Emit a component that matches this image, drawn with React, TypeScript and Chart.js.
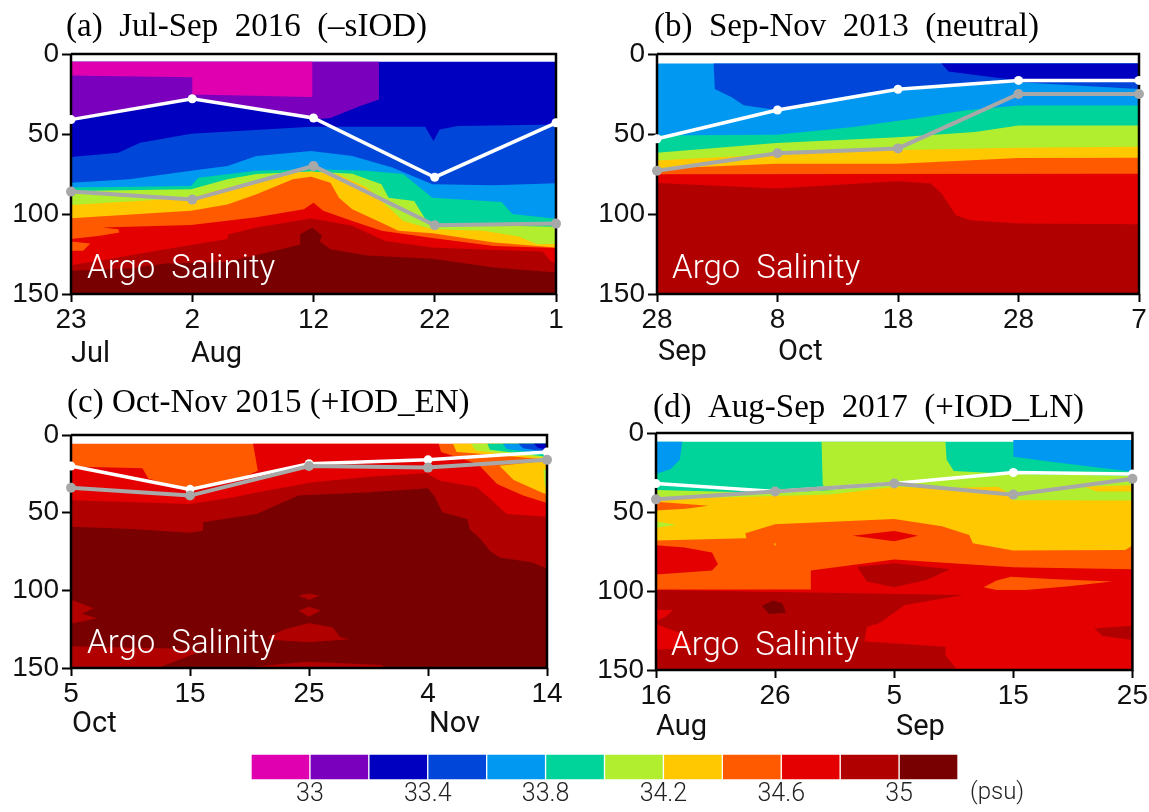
import React, { useEffect, useRef } from "react";
import { Chart, registerables } from "chart.js";
Chart.register(...registerables);

type Pt = [number, number];

const PALETTE = ["#E000B0", "#7A00BE", "#0000C0", "#0046D8", "#0098F0", "#00D49A", "#B2EE30", "#FFC800", "#FF5A00", "#E40000", "#B00000", "#780000"];
const BAR_EDGES = [32.8, 33, 33.2, 33.4, 33.6, 33.8, 34, 34.2, 34.4, 34.6, 34.8, 35, 35.2];
const BAR_TICKS = [33, 33.4, 33.8, 34.2, 34.6, 35];
const DEPTH_TICKS = [0, 50, 100, 150];

// Panel (a)
const A_NAVY: Pt[] = [[0, 4.8], [40, 4.8]];
const A_PURPLE: Pt[] = [[0, 4.8], [25.4, 4.8], [25.4, 28.5], [23.8, 32.6], [21.4, 40], [20, 41], [10, 28], [0, 41]];
const A_MAGENTA: Pt[] = [[0, 4.8], [19.9, 4.8], [19.9, 26.8], [10, 25.3], [10, 14.5], [0, 13.5]];
const A_BLUE: Pt[] = [[0, 64.4], [3.9, 61.7], [5.7, 55.5], [9.9, 49.9], [19.8, 45.5], [29.2, 45.5], [29.9, 54.4], [30.4, 47.2], [31.9, 45], [40, 44]];
const A_LIGHT: Pt[] = [[0, 80.4], [4.8, 78.3], [9.9, 73], [12.9, 70], [15.3, 63.8], [19.8, 60.7], [23.2, 63.8], [26.5, 71], [29.8, 81.4], [34.9, 82], [40, 80.8]];
const A_TEAL: Pt[] = [[0, 83.5], [9.9, 82.5], [10.5, 77.3], [12.9, 75.2], [15.3, 73], [19.8, 72], [24.4, 73], [27.4, 75], [29.8, 89.8], [35.5, 92.5], [36.4, 100], [40, 103]];
const A_LIME: Pt[] = [[0, 85.6], [9.9, 84.6], [12.9, 78.3], [15.3, 75], [19.8, 73.5], [23.2, 74.8], [25.6, 81.4], [26.2, 89.8], [28.3, 91.8], [29.5, 106.4], [40, 108]];
const A_YELLOW: Pt[] = [[0, 94.3], [9.9, 89.8], [12.9, 83.5], [15.3, 79.4], [18.3, 74.2], [19.8, 73.5], [22, 75.2], [24.4, 83.5], [26.2, 96], [27.4, 104.3], [29.8, 109.5], [34, 110.5], [36.9, 114], [38.4, 118.8], [40, 118.8]];
const A_ORANGE: Pt[] = [[0, 102.6], [9.9, 98], [12.9, 94], [15.3, 87.7], [18.3, 78.3], [19.8, 76.7], [21.4, 80.4], [22.1, 89.8], [23.2, 97], [25.3, 104.3], [27, 110.5], [29.8, 112], [34.9, 117.8], [40, 121]];
const A_RED: Pt[] = [[0, 115.7], [2.4, 113.6], [4, 111.6], [3.9, 109.5], [2.6, 108.5], [9.9, 106.8], [15.3, 102], [19.2, 97], [20, 92.9], [20.8, 98], [23.2, 104.3], [25.6, 110.5], [29.8, 115], [34.9, 120], [40, 121.3]];
const A_POCKET: Pt[] = [[0, 117.2], [1.6, 118.4], [1, 123], [0, 123]];
const A_DARK: Pt[] = [[0, 132], [3.3, 128], [7.8, 122], [12.9, 115.7], [13, 112.6], [15.3, 108.5], [19.8, 102.8], [23.2, 107.4], [25.9, 116.8], [29.8, 121], [34.9, 122.5], [38.9, 123.5], [39.5, 129], [40, 131]];
const A_MAROON: Pt[] = [[0, 135.5], [4.8, 134], [7.8, 131], [12.9, 130], [16.8, 123], [18.9, 119], [18.9, 112.6], [19.9, 108.5], [20.7, 113.6], [20.5, 117], [21.4, 122], [24.4, 126], [29.8, 128], [34.9, 133.4], [40, 136.5]];
const A_WHITE = [41, 28, 40, 77, 43];
const A_GRAY = [86, 91, 70, 107, 106];

// Panel (b)
const B_LIGHT: Pt[] = [[0, 6], [40, 6]];
const B_BLUE: Pt[] = [[4.7, 6], [40, 6], [40, 21.8], [30, 17.6], [20, 22.4], [17.5, 24], [14.5, 28], [9.9, 35], [7.2, 32], [6.2, 27], [4.8, 21.8]];
const B_NAVY: Pt[] = [[23.6, 6], [40, 6], [40, 16.6], [30, 16.6], [24.2, 11]];
const B_TEAL: Pt[] = [[0, 51], [9.9, 50.5], [16.3, 45.7], [22.1, 39.5], [25.5, 35.3], [30, 32.2], [40, 32.2]];
const B_LIME: Pt[] = [[0, 61.7], [9.9, 55.7], [20, 52], [26.4, 48.8], [30, 44.7], [40, 44.7]];
const B_YELLOW: Pt[] = [[0, 66.5], [9.9, 62.7], [20, 60], [30, 58.6], [40, 58]];
const B_ORANGE: Pt[] = [[0, 71.7], [9.9, 68.6], [20, 68.6], [30, 65], [40, 64.8]];
const B_RED: Pt[] = [[0, 75.2], [40, 74.8]];
const B_DARK: Pt[] = [[0, 80.6], [9.9, 84], [20, 79.6], [22.7, 81], [23.6, 87], [24.8, 100.8], [26, 103.9], [30, 106], [40, 106.4]];
const B_WHITE = [53, 35, 22, 16.5, 16.5];
const B_GRAY = [73, 62, 59, 25, 25];

// Panel (c)
const C_ORANGE: Pt[] = [[0, 5.6], [40, 5.6]];
const C_RED: Pt[] = [[0, 20.3], [6, 21.4], [6.5, 28], [10, 36], [14, 29], [15.7, 23], [15.3, 5.6], [30.9, 5.6], [31.1, 11], [34.2, 18.7], [35.8, 31.5], [38, 39], [39.8, 43.3], [40, 44]];
const C_TOP_YELLOW: Pt[] = [[32.1, 5.6], [40, 5.6], [40, 16], [36, 13], [32.4, 11]];
const C_TOP_LIME: Pt[] = [[33.6, 5.6], [40, 5.6], [40, 15], [34, 10]];
const C_TOP_TEAL: Pt[] = [[35, 5.6], [40, 5.6], [40, 14], [35.2, 9.5]];
const C_TOP_LIGHT: Pt[] = [[36.3, 5.6], [40, 5.6], [40, 12.5], [36.6, 9]];
const C_TOP_BLUE: Pt[] = [[37.6, 5.6], [40, 5.6], [40, 11], [38, 8.5]];
const C_TOP_NAVY: Pt[] = [[38.9, 5.6], [40, 5.6], [40, 9.5], [39.2, 8]];
const C_LOW_YELLOW: Pt[] = [[36, 19.8], [37.2, 29], [39.7, 37.5], [40, 38], [40, 16.5]];
const C_LOW_LIME: Pt[] = [[39.7, 22], [40, 22], [40, 37], [39.8, 32]];
const C_DARK: Pt[] = [[0, 42], [10, 44.4], [13.7, 40], [15.6, 37], [20.2, 30.5], [24.8, 27], [29.9, 24.7], [31, 29.4], [34.1, 33.7], [35.5, 43], [36.6, 50.9], [40, 52.6]];
const C_MAROON: Pt[] = [[0, 59], [5.1, 60.5], [10, 63], [11.1, 61.6], [11.1, 56.2], [15.6, 50.9], [19.1, 39], [24.8, 37], [30, 34.3], [30.6, 40], [31.2, 49.8], [33.3, 54], [33.5, 60.5], [34.4, 67], [35.2, 74.5], [36, 78.8], [38.7, 82], [40, 86]];
const C_ISLE_LEFT: Pt[] = [[0, 106], [1.9, 111.5], [0.9, 115], [2.2, 118], [0, 121.5]];
const C_ISLE_BASE: Pt[] = [[0, 136], [8.5, 137.5], [11, 139], [7.3, 150], [0, 150]];
const C_ISLE_FOOT: Pt[] = [[14, 150], [19.9, 146], [26.2, 148], [26.2, 150]];
const C_ISLE_A: Pt[] = [[19.1, 103.5], [20, 102], [20.9, 103.5], [20, 106]];
const C_ISLE_B: Pt[] = [[19.5, 112], [20, 110.5], [21, 113], [20, 117], [19.1, 113]];
const C_ISLE_C: Pt[] = [[16.5, 130], [18, 125], [20, 121], [22, 124], [22.6, 130], [23.4, 131.5], [20, 133.5], [17, 132]];
const C_WHITE = [20, 35, 18.5, 16, 11];
const C_GRAY = [34, 39, 20, 21, 16];

// Panel (d)
const D_TEAL: Pt[] = [[0, 5.6], [40, 5.6]];
const D_LIGHT_L: Pt[] = [[0, 5.6], [2.2, 5.6], [2, 17], [1.2, 23], [0, 26]];
const D_LIGHT_R: Pt[] = [[30, 4.5], [40, 4.5], [40, 24.5], [33, 18], [30, 15]];
const D_LIME: Pt[] = [[0, 36], [10, 38], [15, 36], [14, 33], [13.9, 5.6], [24.3, 5.6], [24.4, 17], [25, 24], [30, 26], [40, 27]];
const D_YELLOW: Pt[] = [[0, 42], [14.7, 39], [20, 34], [24, 35], [28.7, 34], [29.4, 37], [30, 42.5], [40, 42.7]];
const D_YELLOW_SLIVER: Pt[] = [[36, 34], [40, 33], [40, 37], [37, 37]];
const D_ORANGE_SLIVER: Pt[] = [[0, 43.5], [2.5, 45], [4.4, 46], [2.5, 48], [0, 49]];
const D_LIME_SLIVER: Pt[] = [[0, 56], [1.7, 58], [0, 60]];
const D_ORANGE: Pt[] = [[0, 68], [7.6, 66.6], [7.5, 63.5], [10, 57.7], [20, 54.5], [24, 59], [26.3, 64.5], [26.6, 69.8], [30, 74.4], [39.4, 74], [40, 71.2]];
const D_DOT: Pt[] = [[9.9, 70], [10.1, 70], [10, 71.5]];
const D_RED: Pt[] = [[0, 99], [13, 99], [13, 87], [20, 80], [30, 85], [40, 86.3]];
const D_POCKET: Pt[] = [[0, 71], [2.4, 72.5], [4.7, 75.7], [5.2, 83], [4.7, 87], [0, 89.5]];
const D_LENS: Pt[] = [[16.5, 65], [20, 62], [22, 65], [20, 68.5]];
const D_ORANGE_ISLE: Pt[] = [[27.5, 97.7], [28.6, 93.4], [29.8, 91], [33.2, 92.4], [38.3, 94], [34.5, 97.2], [31, 99.4], [28.6, 99.4]];
const D_DARK_ISLE: Pt[] = [[16.9, 84.6], [20, 82.5], [24.7, 86.3], [22.7, 93], [20, 97.7], [17.7, 94]];
const D_DARK: Pt[] = [[0, 99.4], [25.8, 102.5], [20.9, 108.9], [18.7, 120.5], [17.7, 122.6], [17.5, 132], [24.3, 135.3], [24.3, 140.6], [25.2, 149], [25.2, 150], [0, 150]];
const D_RED_A: Pt[] = [[0, 112], [1.4, 112], [0.9, 116], [0, 119]];
const D_RED_B: Pt[] = [[0, 121], [1.8, 126], [2.6, 131], [3, 136], [0, 137]];
const D_MAROON_ISLE: Pt[] = [[8.9, 109.5], [9.8, 106], [10.6, 107.8], [10.9, 113.7], [9.5, 114.6]];
const D_DARK_RIGHT: Pt[] = [[36.8, 123.7], [40, 122], [40, 131], [37.5, 128.5]];
const D_WHITE = [32, 37, 32, 25, 26];
const D_GRAY = [42, 37, 32, 39, 29];

const CROSS_DAYS = [0, 10, 20, 30, 40];
const A_DAYS = ["23", "2", "12", "22", "1"];
const B_DAYS = ["28", "8", "18", "28", "7"];
const C_DAYS = ["5", "15", "25", "4", "14"];
const D_DAYS = ["16", "26", "5", "15", "25"];

type Layer = { c: number; pts: Pt[]; band?: boolean };
const band = (c: number, pts: Pt[]): Layer => ({ c, pts, band: true });
const patch = (c: number, pts: Pt[]): Layer => ({ c, pts });

const TITLE = '33px "Liberation Serif"';
const ARGO = '300 33px "Roboto"';
const MONTH = '29px "Roboto"';

const PANELS = [
  {
    box: [0, 0, 592, 375], plot: [71, 54, 556, 294], days: A_DAYS, white: A_WHITE, gray: A_GRAY,
    title: "(a)  Jul-Sep  2016  (–sIOD)", titleAt: [66, 36], argoAt: [87, 278],
    months: [["Jul", 71, 362], ["Aug", 191, 362]],
    layers: [band(2, A_NAVY), patch(1, A_PURPLE), patch(0, A_MAGENTA), band(3, A_BLUE), band(4, A_LIGHT), band(5, A_TEAL), band(6, A_LIME), band(7, A_YELLOW), band(8, A_ORANGE), band(9, A_RED), patch(8, A_POCKET), band(10, A_DARK), band(11, A_MAROON)],
  },
  {
    box: [592, 0, 557, 375], plot: [657, 54, 1139, 294], days: B_DAYS, white: B_WHITE, gray: B_GRAY,
    title: "(b)  Sep-Nov  2013  (neutral)", titleAt: [654, 36], argoAt: [672, 278],
    months: [["Sep", 658, 360], ["Oct", 778, 360]],
    layers: [band(4, B_LIGHT), patch(3, B_BLUE), patch(2, B_NAVY), band(5, B_TEAL), band(6, B_LIME), band(7, B_YELLOW), band(8, B_ORANGE), band(9, B_RED), band(10, B_DARK)],
  },
  {
    box: [0, 378, 592, 362], plot: [71, 435, 547, 668], days: C_DAYS, white: C_WHITE, gray: C_GRAY,
    title: "(c) Oct-Nov 2015 (+IOD_EN)", titleAt: [67, 412], argoAt: [87, 653],
    months: [["Oct", 72, 732], ["Nov", 429, 732]],
    layers: [band(8, C_ORANGE), band(9, C_RED), patch(7, C_TOP_YELLOW), patch(6, C_TOP_LIME), patch(5, C_TOP_TEAL), patch(4, C_TOP_LIGHT), patch(3, C_TOP_BLUE), patch(2, C_TOP_NAVY), patch(7, C_LOW_YELLOW), patch(6, C_LOW_LIME), band(10, C_DARK), band(11, C_MAROON), patch(10, C_ISLE_LEFT), patch(10, C_ISLE_BASE), patch(10, C_ISLE_FOOT), patch(10, C_ISLE_A), patch(10, C_ISLE_B), patch(10, C_ISLE_C)],
  },
  {
    box: [592, 378, 557, 362], plot: [656, 433, 1133, 670], days: D_DAYS, white: D_WHITE, gray: D_GRAY,
    title: "(d)  Aug-Sep  2017  (+IOD_LN)", titleAt: [653, 417], argoAt: [671, 655],
    months: [["Aug", 656, 735], ["Sep", 896, 735]],
    layers: [band(5, D_TEAL), patch(4, D_LIGHT_L), patch(4, D_LIGHT_R), band(6, D_LIME), band(7, D_YELLOW), patch(7, D_YELLOW_SLIVER), patch(8, D_ORANGE_SLIVER), patch(6, D_LIME_SLIVER), band(8, D_ORANGE), patch(7, D_DOT), band(9, D_RED), patch(9, D_POCKET), patch(9, D_LENS), patch(8, D_ORANGE_ISLE), patch(10, D_DARK_ISLE), patch(10, D_DARK), patch(9, D_RED_A), patch(9, D_RED_B), patch(11, D_MAROON_ISLE), patch(10, D_DARK_RIGHT)],
  },
];

const toXY = (pts: Pt[]) => pts.map(([x, y]) => ({ x, y }));

type Label = [string, number, number, string, string];
const labelPlugin = (labels: Label[]) => ({
  id: "labels",
  afterDraw(chart: any) {
    const ctx = chart.ctx;
    ctx.save();
    ctx.textAlign = "left";
    ctx.textBaseline = "alphabetic";
    for (const [text, x, y, font, color] of labels) {
      ctx.font = font;
      ctx.fillStyle = color;
      ctx.fillText(text, x, y);
    }
    ctx.restore();
  },
});

function Panel({ p }: { p: (typeof PANELS)[number] }) {
  const ref = useRef<HTMLCanvasElement>(null);
  useEffect(() => {
    const [bx, by, bw, bh] = p.box;
    const [l, t, r, b] = p.plot;
    const layers = p.layers.map((ly, i) => {
      const pts = ly.band ? [...ly.pts, [ly.pts[ly.pts.length - 1][0], 150] as Pt, [ly.pts[0][0], 150] as Pt] : ly.pts;
      return {
        type: "scatter", showLine: true, data: toXY(pts), fill: "shape", tension: 0,
        backgroundColor: PALETTE[ly.c], borderColor: PALETTE[ly.c], borderWidth: 0, pointRadius: 0,
        order: 1000 - i,
      };
    });
    const curve = (vals: number[], color: string, order: number, w: number, rad: number) => ({
      type: "scatter", showLine: true, data: vals.map((y, i) => ({ x: CROSS_DAYS[i], y })), fill: false, tension: 0,
      borderColor: color, backgroundColor: color, borderWidth: w, pointRadius: rad, pointBorderWidth: 0, clip: false, order,
    });
    const frame = {
      type: "scatter", showLine: true, data: [{ x: 0, y: 0 }, { x: 40, y: 0 }, { x: 40, y: 150 }, { x: 0, y: 150 }, { x: 0, y: 0 }],
      fill: false, borderColor: "#000", borderWidth: 2.5, pointRadius: 0, clip: false, tension: 0, order: 50,
    };
    const labels: Label[] = [
      [p.title, p.titleAt[0] - bx, p.titleAt[1] - by, TITLE, "#000"],
      ["Argo  Salinity", p.argoAt[0] - bx, p.argoAt[1] - by, ARGO, "#fff"],
      ...p.months.map((m) => [m[0], (m[1] as number) - bx, (m[2] as number) - by, MONTH, "#111"] as Label),
    ];
    const tickFont = { family: '"Liberation Sans"', size: 28 };
    const chart = new Chart(ref.current!, {
      type: "scatter",
      data: { datasets: [curve(p.gray, "#A8A8A8", 1, 4, 5), curve(p.white, "#FFFFFF", 2, 3.5, 4.5), frame, ...layers] as any },
      plugins: [labelPlugin(labels)],
      options: {
        responsive: false, animation: false, events: [],
        layout: { padding: { top: t - by, right: bx + bw - r, left: 0, bottom: 0 } },
        plugins: { legend: { display: false }, tooltip: { enabled: false }, title: { display: false } },
        scales: {
          x: {
            type: "linear", min: 0, max: 40,
            afterFit: (s: any) => { s.height = by + bh - b; },
            afterBuildTicks: (s: any) => { s.ticks = CROSS_DAYS.map((value) => ({ value })); },
            ticks: { autoSkip: false, maxRotation: 0, color: "#111", font: tickFont, padding: 1, callback: (v: any) => p.days[CROSS_DAYS.indexOf(Number(v))] },
            grid: { drawOnChartArea: false, drawTicks: true, tickLength: 8, tickWidth: 2, tickColor: "#000" },
            border: { display: false },
          },
          y: {
            type: "linear", reverse: true, min: 0, max: 150,
            afterFit: (s: any) => { s.width = l - bx; },
            afterBuildTicks: (s: any) => { s.ticks = DEPTH_TICKS.map((value) => ({ value })); },
            ticks: { color: "#111", font: tickFont, padding: 3 },
            grid: { drawOnChartArea: false, drawTicks: true, tickLength: 9, tickWidth: 2, tickColor: "#000" },
            border: { display: false },
          },
        },
      } as any,
    });
    return () => chart.destroy();
  }, [p]);
  return <canvas ref={ref} width={p.box[2]} height={p.box[3]} style={{ position: "absolute", left: p.box[0], top: p.box[1], width: p.box[2], height: p.box[3] }} />;
}

function ColorBar() {
  const ref = useRef<HTMLCanvasElement>(null);
  useEffect(() => {
    const chart = new Chart(ref.current!, {
      type: "bar",
      data: {
        labels: ["psu"],
        datasets: PALETTE.map((color, i) => ({
          data: [[BAR_EDGES[i], BAR_EDGES[i + 1]]], backgroundColor: color, borderColor: "#fff", borderWidth: 1, borderSkipped: false,
          barPercentage: 1, categoryPercentage: 1, grouped: false,
        })) as any,
      },
      plugins: [labelPlugin([["(psu)", 740, 54, '300 24px "Roboto"', "#222"]])],
      options: {
        indexAxis: "y", responsive: false, animation: false, events: [],
        layout: { padding: { top: 9, right: 72, left: 21, bottom: 0 } },
        plugins: { legend: { display: false }, tooltip: { enabled: false } },
        scales: {
          x: {
            type: "linear", min: 32.8, max: 35.2,
            afterFit: (s: any) => { s.height = 32; },
            afterBuildTicks: (s: any) => { s.ticks = BAR_TICKS.map((value) => ({ value })); },
            ticks: { autoSkip: false, maxRotation: 0, color: "#222", font: { family: '"Roboto"', weight: "300", size: 25 }, padding: -8, callback: (v: any) => String(v) },
            grid: { display: false }, border: { display: false },
          },
          y: { display: false },
        },
      } as any,
    });
    return () => chart.destroy();
  }, []);
  return <canvas ref={ref} width={800} height={67} style={{ position: "absolute", left: 230, top: 745, width: 800, height: 67 }} />;
}

export default function App() {
  return (
    <div style={{ position: "absolute", left: 0, top: 0, width: 1149, height: 812, overflow: "hidden", background: "#fff" }}>
      {PANELS.map((p, i) => <Panel key={i} p={p} />)}
      <ColorBar />
    </div>
  );
}
